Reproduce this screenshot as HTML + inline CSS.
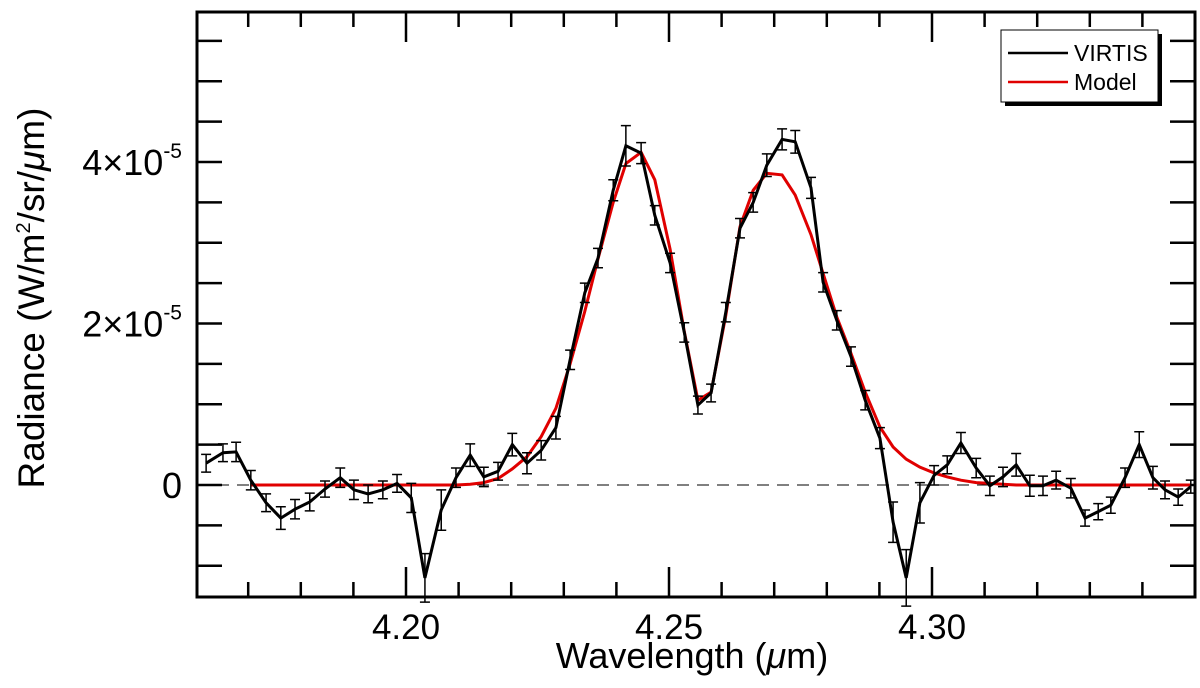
<!DOCTYPE html>
<html><head><meta charset="utf-8"><style>
html,body{margin:0;padding:0;background:#fff;}
svg{display:block;font-family:"Liberation Sans",sans-serif;}
</style></head><body>
<svg id="chart" width="1200" height="688" viewBox="0 0 1200 688">
<g id="grid"></g>
<g id="series"></g>
<rect x="197" y="12" width="998" height="585" fill="none" stroke="#000" stroke-width="3"/>
<g>
<rect x="1005" y="34" width="157" height="72" fill="#000"/>
<rect x="1001" y="30" width="157" height="72" fill="#fff" stroke="#000" stroke-width="1"/>
<line x1="1008" y1="53" x2="1068" y2="53" stroke="#000" stroke-width="2.5"/>
<text x="1074" y="61" font-size="23">VIRTIS</text>
<line x1="1008" y1="82" x2="1068" y2="82" stroke="#e00000" stroke-width="2.5"/>
<text x="1074" y="90" font-size="23">Model</text>
</g>
<text x="692" y="668" font-size="36" text-anchor="middle">Wavelength (<tspan font-style="italic">μ</tspan>m)</text>
<text transform="translate(44,298) rotate(-90)" font-size="37" text-anchor="middle">Radiance (W/m<tspan font-size="20" dy="-14">2</tspan><tspan dy="14">/sr/</tspan><tspan font-style="italic">μ</tspan>m)</text>
</svg>
<script>
const wavelengths=[4.1620,4.1652,4.1677,4.1705,4.1734,4.1762,4.1789,4.1817,4.1846,4.1875,4.1901,4.1928,4.1956,4.1983,4.2010,4.2036,4.2067,4.2095,4.2122,4.2148,4.2175,4.2202,4.2230,4.2257,4.2285,4.2312,4.2340,4.2365,4.2394,4.2418,4.2447,4.2473,4.2502,4.2529,4.2555,4.2580,4.2608,4.2635,4.2660,4.2686,4.2715,4.2740,4.2770,4.2793,4.2819,4.2846,4.2873,4.2901,4.2926,4.2951,4.2977,4.3004,4.3029,4.3055,4.3084,4.3110,4.3135,4.3160,4.3186,4.3211,4.3236,4.3264,4.3291,4.3316,4.3340,4.3367,4.3394,4.3420,4.3443,4.3468,4.3492];
const virtis=[0.27,0.40,0.41,0.06,-0.22,-0.41,-0.30,-0.21,-0.05,0.09,-0.06,-0.11,-0.06,0.02,-0.16,-1.15,-0.31,0.09,0.37,0.10,0.17,0.50,0.27,0.43,0.71,1.55,2.38,2.81,3.65,4.20,4.11,3.34,2.75,1.89,0.99,1.14,2.14,3.18,3.50,3.96,4.28,4.25,3.68,2.51,2.04,1.59,1.05,0.58,-0.46,-1.15,-0.22,0.12,0.25,0.52,0.21,-0.01,0.10,0.25,-0.01,-0.01,0.06,-0.04,-0.41,-0.33,-0.25,0.09,0.50,0.09,-0.06,-0.15,-0.02];
const errors=[0.11,0.11,0.12,0.12,0.11,0.14,0.12,0.11,0.10,0.12,0.12,0.11,0.11,0.11,0.18,0.30,0.25,0.12,0.14,0.12,0.11,0.14,0.13,0.12,0.14,0.12,0.12,0.12,0.13,0.25,0.13,0.12,0.12,0.12,0.11,0.11,0.12,0.12,0.12,0.14,0.13,0.14,0.13,0.12,0.12,0.12,0.12,0.13,0.25,0.35,0.25,0.12,0.11,0.13,0.12,0.12,0.12,0.14,0.13,0.12,0.11,0.12,0.10,0.10,0.10,0.12,0.16,0.14,0.11,0.10,0.08];
const model=[null,null,null,0,0,0,0,0,0,0,0,0,0,0,0,0,0,0,0.01,0.03,0.08,0.20,0.35,0.60,0.95,1.50,2.15,2.80,3.50,3.98,4.12,3.78,2.92,1.90,1.05,1.15,2.10,3.20,3.65,3.86,3.84,3.59,3.10,2.62,2.08,1.63,1.15,0.72,0.47,0.32,0.22,0.15,0.10,0.06,0.03,0.02,0.01,0,0,0,0,0,0,0,0,0,0,0,0,0,0];
const xTickLabels=["4.20","4.25","4.30"];
const xTickValues=[4.20,4.25,4.30];
const yTickValues=[0,2,4];

const NS="http://www.w3.org/2000/svg";
const L=197,R=1195,T=12,B=597;
const X0=4.20,X0px=406,PXPERUM=5260;
const Y0px=485,PXPERUNIT=80.75;
function sx(w){return X0px+(w-X0)*PXPERUM;}
function sy(v){return Y0px-v*PXPERUNIT;}
function mk(tag,attrs,parent){const e=document.createElementNS(NS,tag);for(const k in attrs)e.setAttribute(k,attrs[k]);parent.appendChild(e);return e;}
const grid=document.getElementById('grid'),series=document.getElementById('series');

for(let i=-4;i<=14;i++){
  const w=4.20+i*0.01;const x=sx(w);
  if(x<=L+1||x>=R-1)continue;
  const major=(i%5===0);const len=major?30:15;
  const t1=mk('line',{x1:x,y1:B,x2:x,y2:B-len,stroke:'#000','stroke-width':2.5},grid);
  
  
  const t2=mk('line',{x1:x,y1:T,x2:x,y2:T+len,stroke:'#000','stroke-width':2.5},grid);
  
  
}
xTickValues.forEach((w,i)=>{
  const t=mk('text',{x:sx(w),y:639,'font-size':35,'text-anchor':'middle'},grid);
  t.textContent=xTickLabels[i];
  
  
});
for(let v=-1.0;v<=5.6;v+=0.5){
  const y=sy(v);if(y<=T+1||y>=B-1)continue;
  const len=25;
  const a=mk('line',{x1:L,y1:y,x2:L+len,y2:y,stroke:'#000','stroke-width':2.5},grid);
  
  
  const b=mk('line',{x1:R,y1:y,x2:R-len,y2:y,stroke:'#000','stroke-width':2.5},grid);
  
  
}
yTickValues.forEach(v=>{
  const t=mk('text',{x:182,y:sy(v)+13,'font-size':36,'text-anchor':'end'},grid);
  if(v===0){t.textContent='0';}
  else{t.innerHTML=v+'×10<tspan font-size="21" dy="-17">-5</tspan>';}
  
  
});
const z=mk('line',{x1:L,y1:sy(0),x2:R,y2:sy(0),stroke:'#000','stroke-width':1,'stroke-dasharray':'12,8'},series);


let md='';
model.forEach((v,i)=>{if(v===null)return;md+=(md?'L':'M')+sx(wavelengths[i]).toFixed(1)+','+sy(v).toFixed(1);});
const mp=mk('path',{d:md,fill:'none',stroke:'#e00000','stroke-width':3},series);


virtis.forEach((v,i)=>{
  const x=sx(wavelengths[i]),y1=sy(v+errors[i]),y2=sy(v-errors[i]);
  const g=mk('path',{d:`M${x},${y1}V${y2}M${x-5},${y1}H${x+5}M${x-5},${y2}H${x+5}`,stroke:'#000','stroke-width':1.5,fill:'none'},series);
  
  
});
let vd='';
virtis.forEach((v,i)=>{vd+=(i?'L':'M')+sx(wavelengths[i]).toFixed(1)+','+sy(v).toFixed(1);});
const vp=mk('path',{d:vd,fill:'none',stroke:'#000','stroke-width':3,'stroke-linejoin':'miter'},series);


</script>
</body></html>
